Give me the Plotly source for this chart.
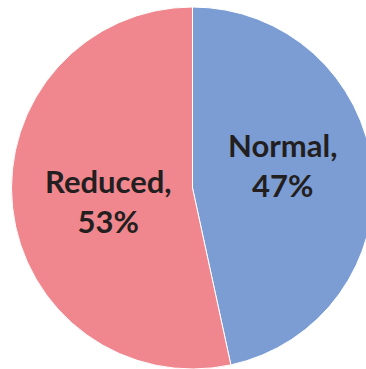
import plotly.graph_objects as go

labels = ["Normal", "Reduced"]
values = [46.6, 53.4]
shown_pct = ["47%", "53%"]
colors = ["#7c9dd3", "#f0868e"]

W, H = 384, 369
fig = go.Figure(go.Pie(
    labels=labels,
    values=values,
    sort=False,
    direction="clockwise",
    rotation=0,
    marker=dict(colors=colors, line=dict(color="white", width=1)),
    textinfo="none",
    domain=dict(x=[11.5 / W, 373.5 / W], y=[0, 362 / H]),
    hoverinfo="none",
    showlegend=False,
))

# label block centres in pixels from top-left
label_pos = {"Normal": (282, 165), "Reduced": (108, 201)}
font = dict(family="Lato", size=31, color="#231f20", weight="bold")
for lab, pct in zip(labels, shown_pct):
    px, py = label_pos[lab]
    fig.add_annotation(
        x=px / W, y=1 - py / H, xref="paper", yref="paper",
        text=f"{lab},<br>{pct}", showarrow=False, font=font,
        xanchor="center", yanchor="middle", align="center",
    )

fig.update_layout(
    width=W, height=H, autosize=False,
    margin=dict(l=0, r=0, t=0, b=0),
    paper_bgcolor="white",
    plot_bgcolor="white",
)
fig.write_html("out.html", config={"displayModeBar": False},
               post_script="document.body.style.overflow='hidden';document.documentElement.style.overflow='hidden';")
